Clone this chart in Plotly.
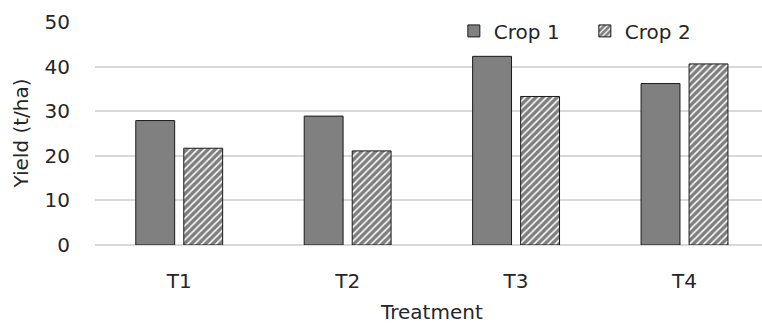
import plotly.graph_objects as go

treatments = ["T1", "T2", "T3", "T4"]
crop1 = [27.9, 28.9, 42.3, 36.2]
crop2 = [21.7, 21.1, 33.3, 40.6]
y_ticks = [0, 10, 20, 30, 40, 50]

FONT = "DejaVu Sans"
TXT = "#262626"
FS = 20

fig = go.Figure()
fig.add_trace(go.Bar(
    x=treatments, y=crop1, name="Crop 1",
    marker=dict(color="#808080", line=dict(color="#1a1a1a", width=1)),
))
fig.add_trace(go.Bar(
    x=treatments, y=crop2, name="Crop 2",
    marker=dict(color="white", line=dict(color="#1a1a1a", width=1),
                pattern=dict(shape="/", fgcolor="black", bgcolor="white",
                             size=5, solidity=0.7)),
))

fig.update_layout(
    width=762, height=325,
    margin=dict(l=95, r=0, t=22, b=80),
    paper_bgcolor="white", plot_bgcolor="white",
    barmode="group", bargap=0.43, bargroupgap=0.19,
    font=dict(family=FONT, size=FS, color=TXT),
    showlegend=True,
    legend=dict(orientation="h", x=0.538, y=0.96, xanchor="left", yanchor="middle",
                font=dict(size=FS, color=TXT), bgcolor="rgba(0,0,0,0)",
                entrywidth=86, entrywidthmode="pixels", traceorder="normal"),
    xaxis=dict(range=[-0.5, 3.46], showgrid=False, showline=False, ticks="",
               ticklabelstandoff=22,
               tickfont=dict(size=FS, color=TXT)),
    yaxis=dict(range=[0, 50], tickvals=y_ticks, showgrid=True, gridcolor="#d9d9d9",
               gridwidth=1.5, zeroline=True, zerolinecolor="#d9d9d9", zerolinewidth=1.5,
               showline=False, ticks="", ticklabelstandoff=24,
               tickfont=dict(size=FS, color=TXT)),
)
fig.add_annotation(text="Yield (t/ha)", x=0, xref="paper", xshift=-75, xanchor="center",
                   y=0.5, yref="paper", yanchor="middle", textangle=-90,
                   showarrow=False, font=dict(size=FS, color=TXT))
fig.add_annotation(text="Treatment", x=1.5, xref="x", y=0, yref="paper", yshift=-67,
                   yanchor="middle", showarrow=False, font=dict(size=FS, color=TXT))

fig.write_html("out.html")
